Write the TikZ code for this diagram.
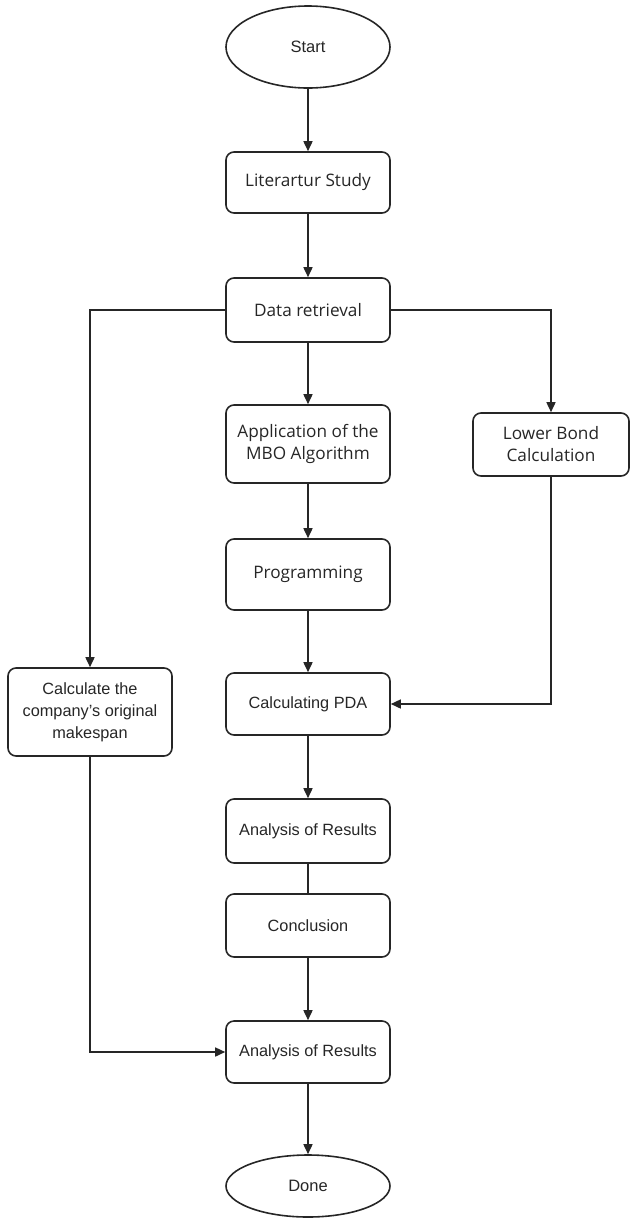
\documentclass[tikz,border=0pt]{standalone}
\usepackage{fontspec}
\setmainfont{Liberation Sans}
\newfontfamily\osans{Open Sans}
\usetikzlibrary{arrows.meta,shapes.geometric}
\definecolor{ink}{HTML}{262626}
\begin{document}
\begin{tikzpicture}[x=1pt,y=-1pt,
  box/.style={draw=ink, text=ink, rounded corners=8pt, line width=1.6pt, minimum width=164pt,
    align=center, inner sep=0pt, font=\fontsize{16.3}{22}\selectfont},
  sbox/.style={box, font=\osans\fontsize{17.2}{22}\selectfont},
  term/.style={draw=ink, text=ink, ellipse, line width=1.6pt, minimum width=164pt, inner sep=0pt,
    font=\fontsize{16.5}{20}\selectfont},
  arr/.style={draw=ink, line width=1.6pt, -{Triangle[length=10pt,width=9pt]}},
  ln/.style={draw=ink, line width=1.6pt}]
\useasboundingbox (0,0) rectangle (630,1219);
\node[term, minimum height=82pt] (start) at (308,47) {Start};
\node[sbox, minimum height=61pt] (lit) at (308,182.5) {Literartur Study};
\node[sbox, minimum height=64pt] (data) at (308,310) {Data retrieval};
\node[sbox, minimum height=78pt] (app) at (308,444) {Application of the\\MBO Algorithm};
\node[sbox, minimum height=71pt] (prog) at (308,574.5) {Programming};
\node[box, minimum height=62pt] (pda) at (308,704) {Calculating PDA};
\node[box, minimum height=64pt] (a1) at (308,831) {Analysis of Results};
\node[box, minimum height=63pt] (conc) at (308,925.5) {Conclusion};
\node[box, minimum height=62pt] (a2) at (308,1052) {Analysis of Results};
\node[term, minimum height=62pt] (done) at (308,1186) {Done};
\node[box, minimum height=88pt] (calc) at (90,712) {Calculate the\\company's original\\makespan};
\node[sbox, minimum width=156pt, minimum height=63pt] (lower) at (551,444.5) {Lower Bond\\Calculation};

\draw[arr] (start) -- (lit);
\draw[arr] (lit) -- (data);
\draw[arr] (data) -- (app);
\draw[arr] (app) -- (prog);
\draw[arr] (prog) -- (pda);
\draw[arr] (pda) -- (a1);
\draw[ln] (a1) -- (conc);
\draw[arr] (conc) -- (a2);
\draw[arr] (a2) -- (done);
\draw[arr] (data.west) -| (calc.north);
\draw[arr] (data.east) -| (lower.north);
\draw[arr] (lower.south) |- (pda.east);
\draw[arr] (calc.south) |- (a2.west);
\end{tikzpicture}
\end{document}
